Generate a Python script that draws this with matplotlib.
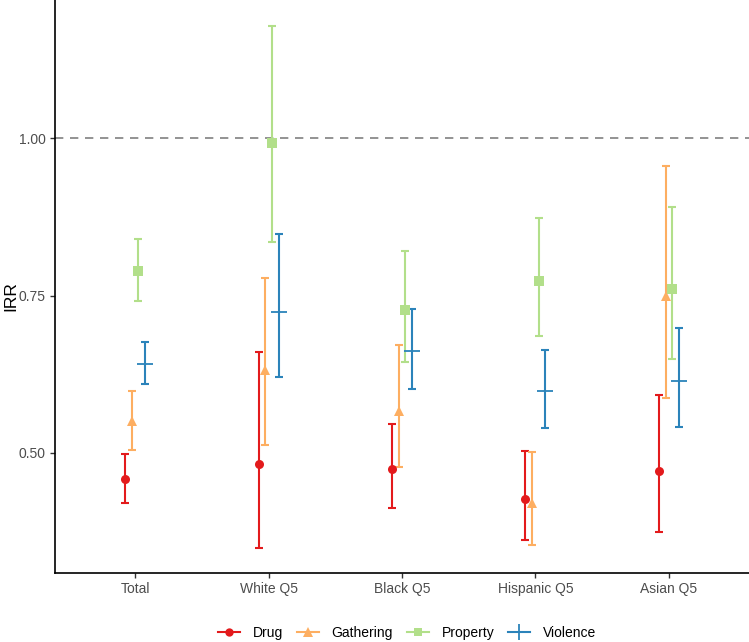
import matplotlib
matplotlib.use("Agg")
import matplotlib.pyplot as plt
import numpy as np
from matplotlib.lines import Line2D

plt.rcParams['font.family'] = ['Liberation Sans', 'DejaVu Sans']

groups = ["Total", "White Q5", "Black Q5", "Hispanic Q5", "Asian Q5"]
series = ["Drug", "Gathering", "Property", "Violence"]

drug_est = [0.458, 0.482, 0.475, 0.427, 0.471]
drug_lo = [0.421, 0.350, 0.412, 0.362, 0.375]
drug_hi = [0.498, 0.661, 0.546, 0.503, 0.592]

gath_est = [0.551, 0.632, 0.566, 0.421, 0.750]
gath_lo = [0.504, 0.513, 0.477, 0.354, 0.587]
gath_hi = [0.598, 0.778, 0.672, 0.501, 0.956]

prop_est = [0.789, 0.992, 0.727, 0.773, 0.761]
prop_lo = [0.741, 0.835, 0.645, 0.685, 0.649]
prop_hi = [0.840, 1.178, 0.820, 0.873, 0.891]

viol_est = [0.642, 0.724, 0.662, 0.598, 0.614]
viol_lo = [0.609, 0.620, 0.602, 0.539, 0.541]
viol_hi = [0.676, 0.847, 0.728, 0.663, 0.698]

colors = ["#E31A1C", "#FDAE61", "#B2DF8A", "#2B83BA"]
markers = ["o", "^", "s", "+"]
msizes = [6.5, 7.5, 6.5, 12]

data = [(drug_est, drug_lo, drug_hi), (gath_est, gath_lo, gath_hi),
        (prop_est, prop_lo, prop_hi), (viol_est, viol_lo, viol_hi)]

fig = plt.figure(figsize=(7.49, 6.42), dpi=100)
ax = fig.add_axes([55/749, 69/642, 1 - 55/749, 1 - 69/642])

x = np.arange(1, len(groups) + 1)
offsets = [-0.075, -0.025, 0.025, 0.075]
for (est, lo, hi), c, m, ms, off in zip(data, colors, markers, msizes, offsets):
    est = np.array(est); lo = np.array(lo); hi = np.array(hi)
    ax.errorbar(x + off, est, yerr=[est - lo, hi - est], fmt='none',
                ecolor=c, elinewidth=1.5, capsize=3.2, capthick=1.5, zorder=2)
    if m == "+":
        ax.plot(x + off, est, linestyle='none', marker=m, markersize=ms,
                color=c, markeredgewidth=1.3, zorder=3)
    else:
        ax.plot(x + off, est, linestyle='none', marker=m, markersize=ms,
                color=c, markeredgewidth=0, zorder=3)

ax.axhline(1.0, color="#808080", linestyle=(0, (5, 4)), linewidth=1.2, zorder=1)

ax.set_xlim(0.4, 5.6)
ax.set_ylim(1 - 435/630, 1 + 138/630)
ax.set_xticks(x)
ax.set_xticklabels(groups)
ax.set_yticks([0.5, 0.75, 1.0])
ax.set_yticklabels(["0.50", "0.75", "1.00"])
ax.tick_params(axis='both', colors="#333333", labelcolor="#4D4D4D",
               labelsize=10, length=3.5, width=1, pad=3)
fig.text(11/749, 1 - 296/642, "IRR", rotation=90, fontsize=12.5,
         color="black", ha="center", va="center")

for s in ["top", "right"]:
    ax.spines[s].set_visible(False)
for s in ["left", "bottom"]:
    ax.spines[s].set_linewidth(1.2)
    ax.spines[s].set_color("black")

handles = []
for c, m, ms, name in zip(colors, markers, msizes, series):
    if m == "+":
        handles.append(Line2D([0], [0], color=c, marker=m, markersize=ms,
                              markeredgewidth=1.3, linewidth=1.5, label=name))
    else:
        handles.append(Line2D([0], [0], color=c, marker=m, markersize=ms - 0.5,
                              markeredgewidth=0, linewidth=1.5, label=name))
fig.legend(handles=handles, loc='center', bbox_to_anchor=(407/749, 1 - 633/642),
           ncol=4, frameon=False, fontsize=10, handlelength=1.6,
           columnspacing=1.0, handletextpad=0.9)

fig.savefig("out.png", dpi=100)
